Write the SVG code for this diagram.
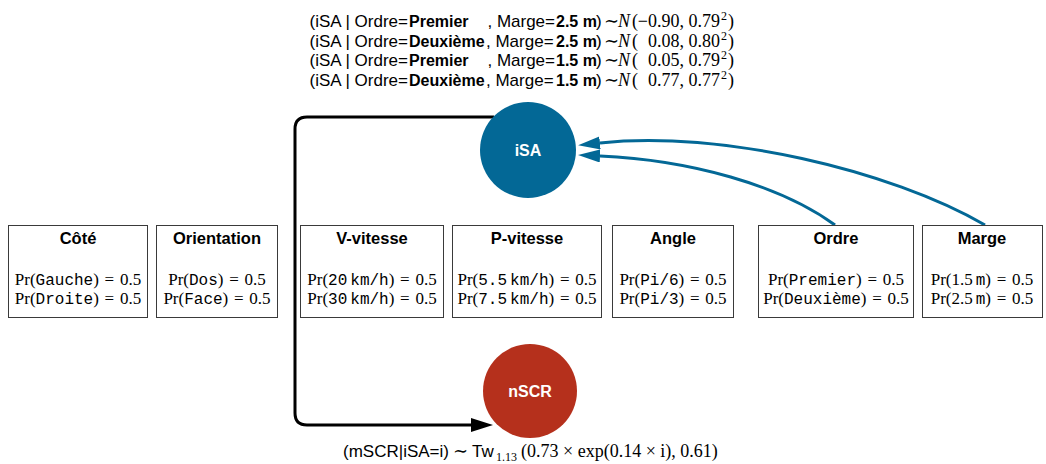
<svg xmlns="http://www.w3.org/2000/svg" width="1046" height="464" viewBox="0 0 1046 464">
<style>
.box{fill:#fff;stroke:#3a3a3a;stroke-width:1}
.ttl{font-family:"Liberation Sans",Arial,sans-serif;font-weight:bold;font-size:16.5px;text-anchor:middle;fill:#000}
.pr{font-family:"Liberation Serif","DejaVu Serif",serif;font-size:17px;text-anchor:middle;fill:#000}
.tt{font-family:"Liberation Mono","DejaVu Sans Mono",monospace;font-size:16px}
.sans{font-family:"Liberation Sans",Arial,sans-serif;font-size:17px;fill:#000}
.bs{font-family:"Liberation Sans",Arial,sans-serif;font-size:16px;font-weight:bold;fill:#000}
.math{font-family:"Liberation Serif","DejaVu Serif",serif;font-size:18px;fill:#000}
.sup{font-family:"Liberation Serif","DejaVu Serif",serif;font-size:12px;fill:#000}
.lbl{font-family:"Liberation Sans",Arial,sans-serif;font-weight:bold;font-size:16px;fill:#fff;text-anchor:middle}
.blue{fill:none;stroke:#036896;stroke-width:3}
.blk{fill:none;stroke:#000;stroke-width:3}
.e{text-anchor:end}
</style>
<defs>
<marker id="ab" markerUnits="userSpaceOnUse" markerWidth="24" markerHeight="14" refX="0" refY="6.5" orient="auto">
<path d="M0,0 L22,6.5 L0,13 Z" fill="#036896"/>
</marker>
<marker id="ak" markerUnits="userSpaceOnUse" markerWidth="24" markerHeight="16" refX="0" refY="7" orient="auto">
<path d="M0,0 L22,7 L0,14 Z" fill="#000"/>
</marker>
</defs>

<g id="annotation-isa">
<g class="sans">
<text class="e" x="408" y="27">(iSA | Ordre=</text>
<text class="e" x="408" y="46.5">(iSA | Ordre=</text>
<text class="e" x="408" y="66">(iSA | Ordre=</text>
<text class="e" x="408" y="85.5">(iSA | Ordre=</text>
<text class="e" x="555" y="27">, Marge=</text>
<text x="486" y="46.5">, Marge=</text>
<text class="e" x="555" y="66">, Marge=</text>
<text x="486" y="85.5">, Marge=</text>
<text x="596" y="27">)</text>
<text x="596" y="46.5">)</text>
<text x="596" y="66">)</text>
<text x="596" y="85.5">)</text>
</g>
<g class="bs">
<text x="409" y="27">Premier</text>
<text x="409" y="46.5">Deuxième</text>
<text x="409" y="66">Premier</text>
<text x="409" y="85.5">Deuxième</text>
<text x="556" y="27">2.5 m</text>
<text x="556" y="46.5">2.5 m</text>
<text x="556" y="66">1.5 m</text>
<text x="556" y="85.5">1.5 m</text>
</g>
<g class="math">
<text y="27"><tspan x="604">∼</tspan><tspan x="618" font-style="italic">N</tspan><tspan x="632">(</tspan></text>
<text y="46.5"><tspan x="604">∼</tspan><tspan x="618" font-style="italic">N</tspan><tspan x="632">(</tspan></text>
<text y="66"><tspan x="604">∼</tspan><tspan x="618" font-style="italic">N</tspan><tspan x="632">(</tspan></text>
<text y="85.5"><tspan x="604">∼</tspan><tspan x="618" font-style="italic">N</tspan><tspan x="632">(</tspan></text>
<text class="e" x="720" y="27">−0.90, 0.79</text>
<text class="e" x="720" y="46.5">0.08, 0.80</text>
<text class="e" x="720" y="66">0.05, 0.79</text>
<text class="e" x="720" y="85.5">0.77, 0.77</text>
<text x="728" y="27">)</text>
<text x="728" y="46.5">)</text>
<text x="728" y="66">)</text>
<text x="728" y="85.5">)</text>
</g>
<g class="sup">
<text x="721" y="20">2</text>
<text x="721" y="39.5">2</text>
<text x="721" y="59">2</text>
<text x="721" y="78.5">2</text>
</g>
</g>

<g id="connectors">
<path class="blk" d="M494,117 L307,117 Q295,117 295,129 L295,413 Q295,425 307,425 L471,425" marker-end="url(#ak)"/>
<path class="blue" d="M985,225 C890,170 720,130 600,143" marker-end="url(#ab)"/>
<path class="blue" d="M835,225 C780,185 690,160 600,156" marker-end="url(#ab)"/>
</g>

<g id="node-isa">
<circle cx="528" cy="150" r="48" fill="#036896"/>
<text class="lbl" x="528" y="156">iSA</text>
</g>

<g id="node-nscr">
<circle cx="530" cy="391" r="47" fill="#b5301c"/>
<text class="lbl" x="530" y="397">nSCR</text>
</g>

<g id="annotation-nscr">
<text class="sans" x="343" y="457">(mSCR|iSA=i)</text>
<text class="math" x="453" y="457">∼</text>
<text class="sans" x="472" y="457">Tw</text>
<text class="sup" x="496" y="461">1.13</text>
<text class="math" x="521" y="457" font-size="17px">(0.73 × exp(0.14 × i), 0.61)</text>
</g>

<g id="node-cote">
<rect class="box" x="8.5" y="225.5" width="139" height="92"/>
<text class="ttl" x="78" y="244">Côté</text>
<text class="pr" x="78" y="285">Pr(<tspan class="tt">Gauche</tspan>) <tspan dx="1.5">=</tspan> <tspan dx="1.5">0.5</tspan></text>
<text class="pr" x="78" y="304">Pr(<tspan class="tt">Droite</tspan>) <tspan dx="1.5">=</tspan> <tspan dx="1.5">0.5</tspan></text>
</g>

<g id="node-orientation">
<rect class="box" x="156.5" y="225.5" width="121" height="92"/>
<text class="ttl" x="217" y="244">Orientation</text>
<text class="pr" x="217" y="285">Pr(<tspan class="tt">Dos</tspan>) <tspan dx="1.5">=</tspan> <tspan dx="1.5">0.5</tspan></text>
<text class="pr" x="217" y="304">Pr(<tspan class="tt">Face</tspan>) <tspan dx="1.5">=</tspan> <tspan dx="1.5">0.5</tspan></text>
</g>

<g id="node-vvitesse">
<rect class="box" x="300.5" y="225.5" width="143" height="92"/>
<text class="ttl" x="372" y="244">V-vitesse</text>
<text class="pr" x="372" y="285">Pr(<tspan class="tt">20</tspan><tspan class="tt" dx="3">km/h</tspan>) <tspan dx="1.5">=</tspan> <tspan dx="1.5">0.5</tspan></text>
<text class="pr" x="372" y="304">Pr(<tspan class="tt">30</tspan><tspan class="tt" dx="3">km/h</tspan>) <tspan dx="1.5">=</tspan> <tspan dx="1.5">0.5</tspan></text>
</g>

<g id="node-pvitesse">
<rect class="box" x="452.5" y="225.5" width="149" height="92"/>
<text class="ttl" x="527" y="244">P-vitesse</text>
<text class="pr" x="527" y="285">Pr(<tspan class="tt">5.5</tspan><tspan class="tt" dx="3">km/h</tspan>) <tspan dx="1.5">=</tspan> <tspan dx="1.5">0.5</tspan></text>
<text class="pr" x="527" y="304">Pr(<tspan class="tt">7.5</tspan><tspan class="tt" dx="3">km/h</tspan>) <tspan dx="1.5">=</tspan> <tspan dx="1.5">0.5</tspan></text>
</g>

<g id="node-angle">
<rect class="box" x="612.5" y="225.5" width="121" height="92"/>
<text class="ttl" x="673" y="244">Angle</text>
<text class="pr" x="673" y="285">Pr(<tspan class="tt">Pi/6</tspan>) <tspan dx="1.5">=</tspan> <tspan dx="1.5">0.5</tspan></text>
<text class="pr" x="673" y="304">Pr(<tspan class="tt">Pi/3</tspan>) <tspan dx="1.5">=</tspan> <tspan dx="1.5">0.5</tspan></text>
</g>

<g id="node-ordre">
<rect class="box" x="758.5" y="225.5" width="155" height="92"/>
<text class="ttl" x="836" y="244">Ordre</text>
<text class="pr" x="836" y="285">Pr(<tspan class="tt">Premier</tspan>) <tspan dx="1.5">=</tspan> <tspan dx="1.5">0.5</tspan></text>
<text class="pr" x="836" y="304">Pr(<tspan class="tt">Deuxième</tspan>) <tspan dx="1.5">=</tspan> <tspan dx="1.5">0.5</tspan></text>
</g>

<g id="node-marge">
<rect class="box" x="922.5" y="225.5" width="120" height="92"/>
<text class="ttl" x="982" y="244">Marge</text>
<text class="pr" x="982" y="285">Pr(1.5<tspan class="tt" dx="3">m</tspan>) <tspan dx="1.5">=</tspan> <tspan dx="1.5">0.5</tspan></text>
<text class="pr" x="982" y="304">Pr(2.5<tspan class="tt" dx="3">m</tspan>) <tspan dx="1.5">=</tspan> <tspan dx="1.5">0.5</tspan></text>
</g>
</svg>
